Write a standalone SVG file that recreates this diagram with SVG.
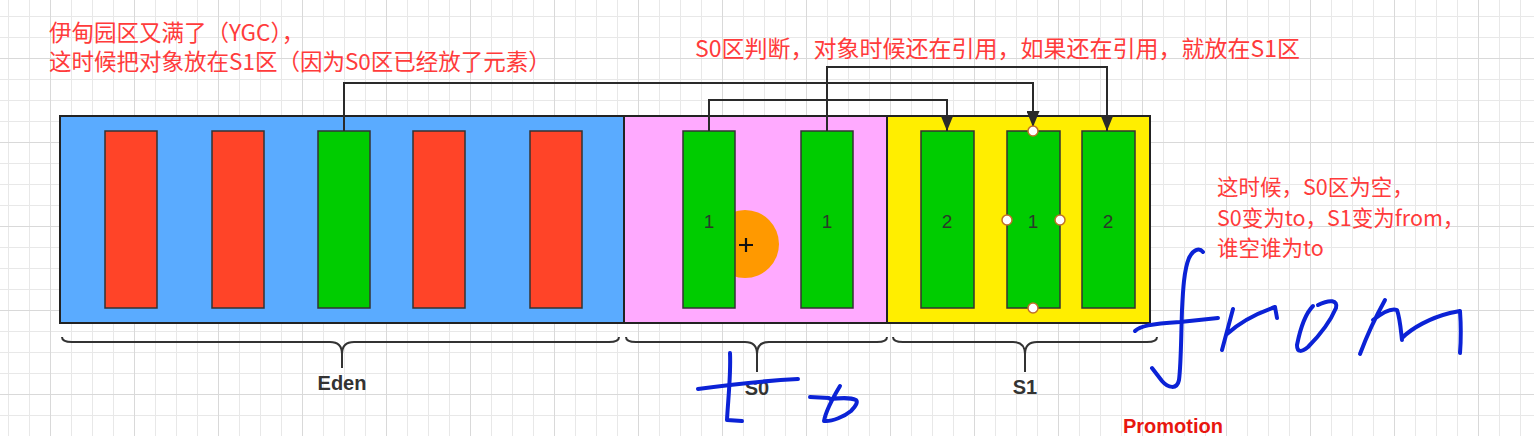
<svg xmlns="http://www.w3.org/2000/svg" width="1534" height="436" viewBox="0 0 1534 436">
<defs>
<pattern id="gMinor" x="8" y="16" width="21" height="21" patternUnits="userSpaceOnUse"><path d="M0,0.5H21M0.5,0V21" stroke="#e8e8e8" stroke-width="1" fill="none"/></pattern>
<pattern id="gMajor" x="50" y="58" width="84" height="84" patternUnits="userSpaceOnUse"><path d="M0,0.5H84M0.5,0V84" stroke="#d9d9d9" stroke-width="1" fill="none"/></pattern>
<marker id="arr" viewBox="0 0 16 13" markerWidth="16" markerHeight="13" refX="16" refY="6.5" orient="auto" markerUnits="userSpaceOnUse"><path d="M0,0L16,6.5L0,13Z" fill="#2a2a2a"/></marker>
</defs>
<style>
.box{stroke:#222;stroke-width:2}
.eden{fill:#5aabff}.s0{fill:#ffaaff}.s1{fill:#ffee00}
.red{fill:#ff4428;stroke:#333;stroke-width:1.5}
.grn{fill:#00cc00;stroke:#333;stroke-width:1.5}
.num{font-family:"Liberation Sans",Arial,sans-serif;font-size:19px;fill:#2a3a2a;text-anchor:middle}
.note{font-family:"Noto Sans CJK SC","Noto Sans",sans-serif;fill:#ff3b3b}
.lbl{font-family:"Liberation Sans",Arial,sans-serif;font-weight:bold;font-size:20px;fill:#333;text-anchor:middle}
.brace{fill:none;stroke:#333;stroke-width:2}
.conn{fill:none;stroke:#2a2a2a;stroke-width:2}
.hdl{fill:#fff;stroke:#c0702a;stroke-width:1.5}
.ink{fill:none;stroke:#0b22d6;stroke-width:4;stroke-linecap:round;stroke-linejoin:round}
</style>
<rect width="1534" height="436" fill="#fff"/>
<rect width="1534" height="436" fill="url(#gMinor)"/>
<rect width="1534" height="436" fill="url(#gMajor)"/>

<g id="eden">
<rect class="box eden" x="60" y="116" width="564" height="207"/>
<rect class="red" x="105" y="131" width="52" height="177"/>
<rect class="red" x="212" y="131" width="52" height="177"/>
<rect class="grn" x="318" y="131" width="52" height="177"/>
<rect class="red" x="413" y="131" width="52" height="177"/>
<rect class="red" x="530" y="131" width="52" height="177"/>
</g>

<g id="s0">
<rect class="box s0" x="624" y="116" width="263" height="207"/>
<circle cx="745" cy="244" r="34" fill="#ff9900"/>
<rect class="grn" x="683" y="131" width="52" height="177"/>
<rect class="grn" x="801" y="131" width="52" height="177"/>
<text class="num" x="709" y="228">1</text>
<text class="num" x="827" y="228">1</text>
<path d="M739,245H753M746,238V252" stroke="#111" stroke-width="2.2"/>
</g>

<g id="s1">
<rect class="box s1" x="887" y="116" width="263" height="207"/>
<rect class="grn" x="921" y="131" width="53" height="177"/>
<rect class="grn" x="1007" y="131" width="53" height="177"/>
<rect class="grn" x="1082" y="131" width="53" height="177"/>
<text class="num" x="947" y="228">2</text>
<text class="num" x="1033" y="228">1</text>
<text class="num" x="1108" y="228">2</text>
</g>

<g id="connectors">
<path class="conn" d="M344,131V83H1033V127" marker-end="url(#arr)"/>
<path class="conn" d="M709,131V100H947V131" marker-end="url(#arr)"/>
<path class="conn" d="M827,131V67H1107V131" marker-end="url(#arr)"/>
</g>

<g id="handles">
<circle class="hdl" cx="1033" cy="131" r="5"/>
<circle class="hdl" cx="1007" cy="220" r="5"/>
<circle class="hdl" cx="1060" cy="220" r="5"/>
<circle class="hdl" cx="1033" cy="308" r="5"/>
</g>

<g id="braces">
<path class="brace" d="M62,337Q62,342 72,342H330Q342,342 342,354V368M342,354Q342,342 354,342H609Q619,342 619,337"/>
<path class="brace" d="M626,337Q626,342 636,342H745Q757,342 757,354V372M757,354Q757,342 769,342H877Q887,342 887,337"/>
<path class="brace" d="M893,337Q893,342 903,342H1013Q1025,342 1025,354V372M1025,354Q1025,342 1037,342H1147Q1157,342 1157,337"/>
<text class="lbl" x="342" y="390">Eden</text>
<text class="lbl" x="757" y="395">S0</text>
<text class="lbl" x="1025" y="394">S1</text>
</g>

<g id="notes">
<text class="note" font-size="22.5" x="49" y="41">伊甸园区又满了（YGC），</text>
<text class="note" font-size="22.5" x="49" y="70">这时候把对象放在S1区（因为S0区已经放了元素）</text>
<text class="note" font-size="23" x="695" y="57">S0区判断，对象时候还在引用，如果还在引用，就放在S1区</text>
<text class="note" font-size="21.5" x="1217" y="195">这时候，S0区为空，</text>
<text class="note" font-size="21.5" x="1217" y="226">S0变为to，S1变为from，</text>
<text class="note" font-size="21.5" x="1217" y="256">谁空谁为to</text>
<text x="1123" y="433" font-family="Liberation Sans,Arial,sans-serif" font-weight="bold" font-size="20" fill="#e8170f">Promotion</text>
</g>

<g id="ink">
<path class="ink" d="M1203,252C1199,247 1193,250 1189,258C1184,270 1183,290 1182,310C1181,340 1181,365 1179,380C1177,390 1168,388 1162,381L1152,368"/>
<path class="ink" d="M1135,331C1140,326 1150,324 1180,322L1218,318"/>
<path class="ink" d="M1222,350L1233,309M1227,334C1240,322 1255,314 1275,307L1277,318"/>
<path class="ink" d="M1313,306C1305,314 1300,330 1297,345C1297,353 1302,352 1308,347C1318,337 1330,322 1336,308C1338,300 1330,299 1318,305"/>
<path class="ink" d="M1360,354C1366,338 1375,318 1385,300M1373,320C1383,312 1392,308 1397,310C1400,318 1401,332 1402,340M1402,338C1412,328 1430,318 1450,313L1460,311C1461,325 1461,340 1460,353"/>
<path class="ink" d="M730,353C731,375 728,400 727,420L742,421"/>
<path class="ink" d="M698,389C720,386 760,381 798,379"/>
<path class="ink" d="M810,397L829,398M840,386C834,396 826,410 824,421C832,422 845,416 851,411C856,406 858,402 856,400C850,397 840,398 830,399"/>
</g>
</svg>
